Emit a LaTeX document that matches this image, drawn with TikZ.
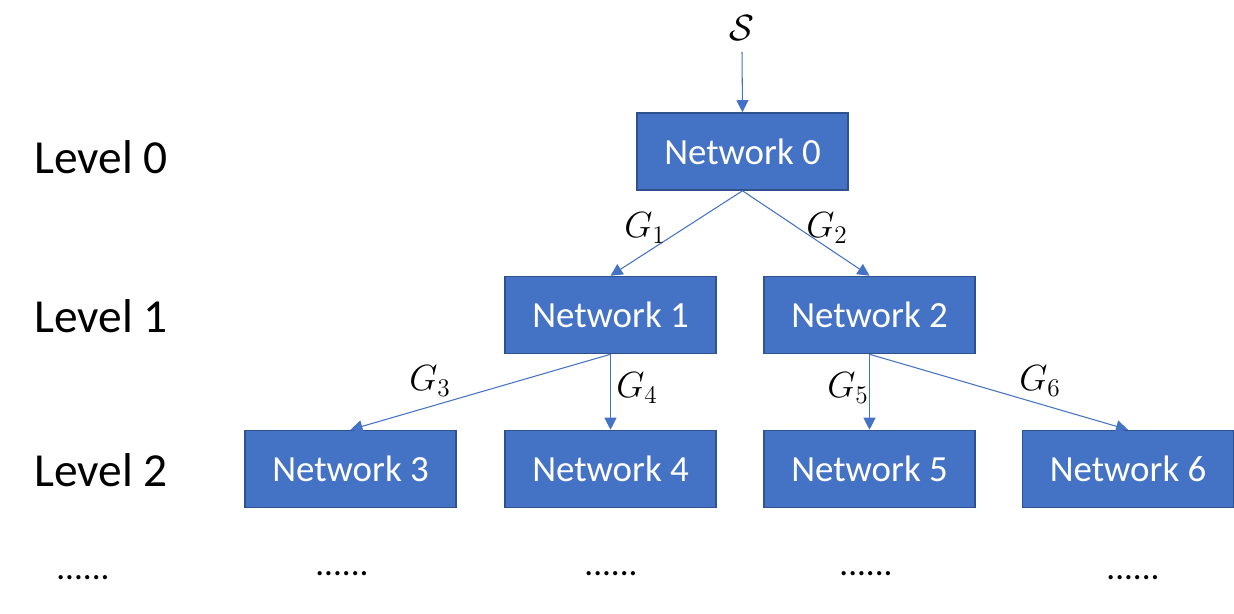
\documentclass[tikz,border=0pt]{standalone}
\usepackage{fontspec}
\setmainfont{Carlito}
\usepackage{tikz}
\usetikzlibrary{arrows.meta, positioning}
\usepackage{amsmath}
\definecolor{NetBlue}{RGB}{68,114,196}
\definecolor{NetEdge}{RGB}{47,82,143}

\begin{document}
\begin{tikzpicture}[x=0.02cm, y=-0.02cm,
          net/.style={rectangle, draw=NetEdge, fill=NetBlue, line width=0.9pt,
                      minimum width=4.22cm, minimum height=1.54cm,
                      text=white, font=\fontsize{21}{24}\selectfont},
          lvl/.style={font=\fontsize{27}{30}\selectfont},
          glab/.style={font=\fontsize{20}{22}\selectfont},
          dots/.style={font=\fontsize{20}{22}\selectfont},
          arr/.style={-{Triangle[length=0.24cm, width=0.24cm]}, NetBlue, line width=0.6pt}
        ]
        \useasboundingbox (0,0) rectangle (1234,614);
        % Input
        \node[glab] (src) at (742, 28) {$\mathcal{S}$};
        \coordinate (s0) at (742, 52);
        % Level 0
        \node[net] (n0) at (742.5, 151.5) {Network 0};
        \draw[arr] (s0)--(n0.north);
        % Level 1
        \node[net] (n1) at (610.5, 315) {Network 1};
        \node[net] (n2) at (869.5, 315) {Network 2};
        \draw[arr] (n0.south)--(n1.north);
        \draw[arr] (n0.south)--(n2.north);
        \node[glab] (g1) at (645, 228) {$G_1$};
        \node[glab] (g2) at (827, 228) {$G_2$};
        % Level 2
        \node[net] (n3) at (350.5, 469) {Network 3};
        \node[net] (n4) at (610.5, 469) {Network 4};
        \node[net] (n5) at (869.5, 469) {Network 5};
        \node[net] (n6) at (1128, 469) {Network 6};
        \draw[arr] (n1.south)--(n3.north);
        \draw[arr] (n1.south)--(n4.north);
        \draw[arr] (n2.south)--(n5.north);
        \draw[arr] (n2.south)--(n6.north);
        \node[glab] (g3) at (430, 381) {$G_3$};
        \node[glab] (g4) at (637, 388) {$G_4$};
        \node[glab] (g5) at (848, 388) {$G_5$};
        \node[glab] (g6) at (1040, 381) {$G_6$};

        % Level names
        \node[lvl] (l0) at (101, 157) {Level 0};
        \node[lvl] (l1) at (101, 316) {Level 1};
        \node[lvl] (l2) at (101, 470) {Level 2};

        % Continuation
        \node[dots] (d0) at (83, 578) {......};
        \node[dots] (d1) at (342, 574) {......};
        \node[dots] (d2) at (611, 574) {......};
        \node[dots] (d3) at (866, 574) {......};
        \node[dots] (d4) at (1133, 578) {......};
      \end{tikzpicture}
\end{document}
